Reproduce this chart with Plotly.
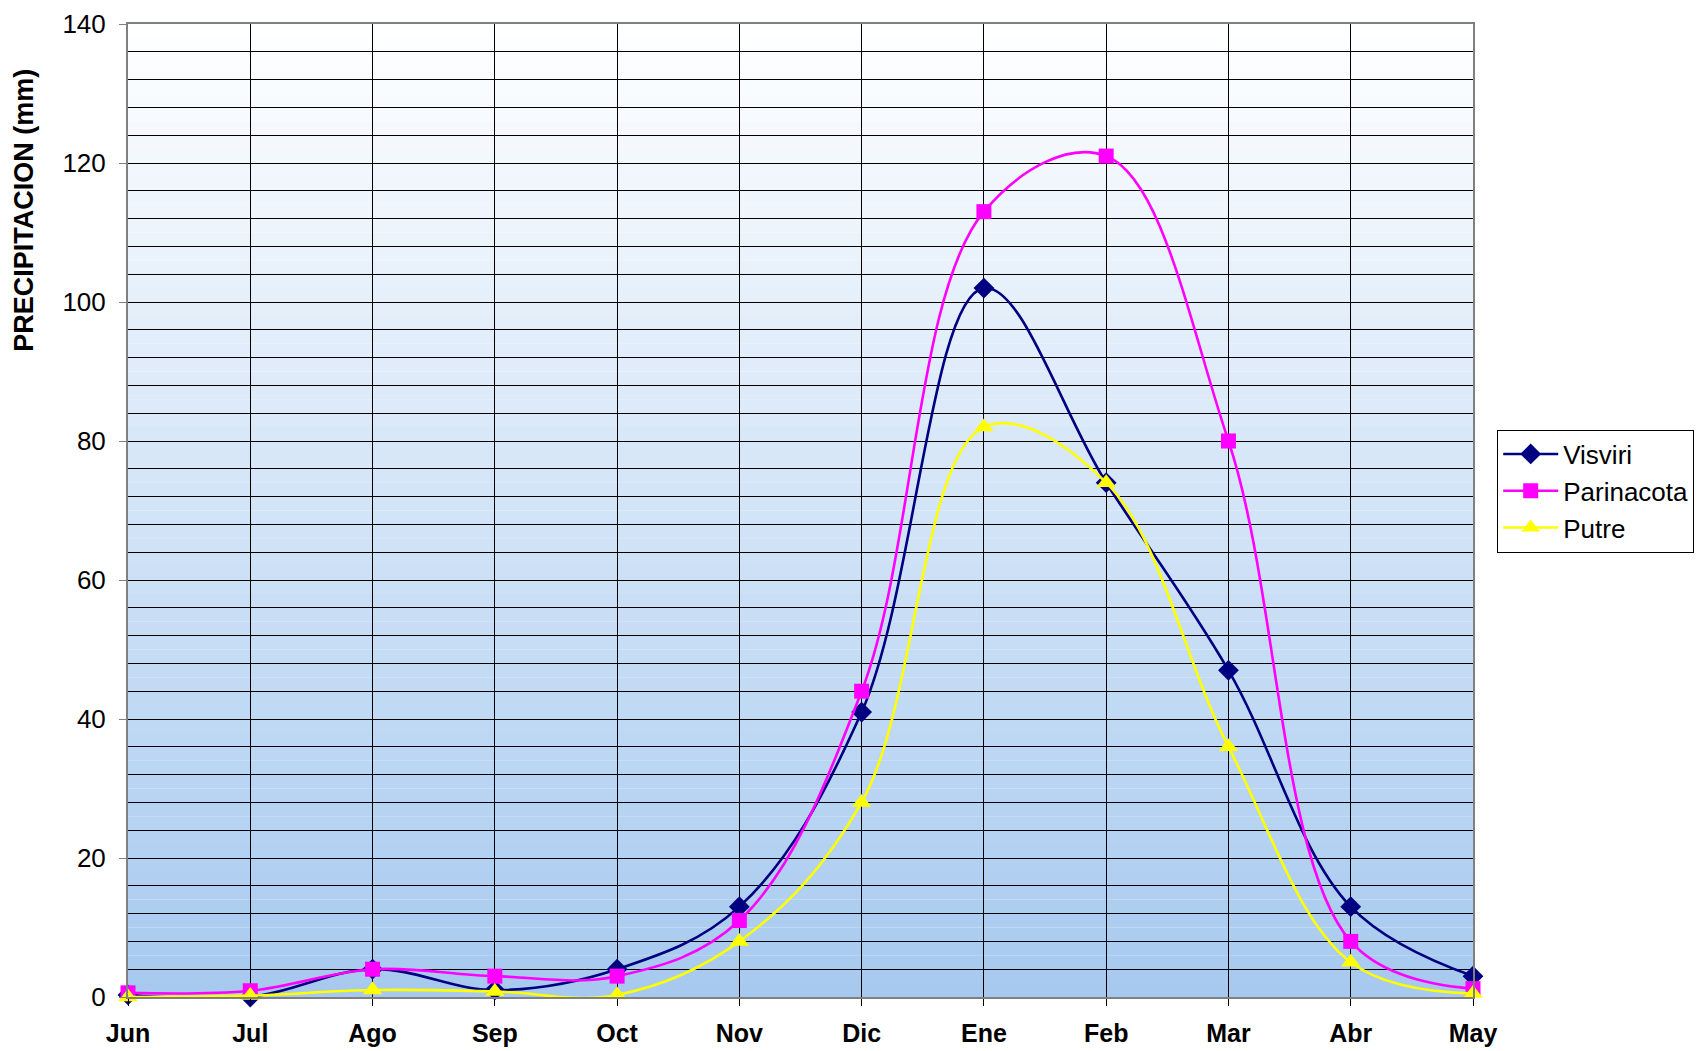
import plotly.graph_objects as go

months = ["Jun", "Jul", "Ago", "Sep", "Oct", "Nov", "Dic", "Ene", "Feb", "Mar", "Abr", "May"]
visviri = [0.3, 0, 4, 1, 4, 13, 41, 102, 74, 47, 13, 3]
parinacota = [0.6, 0.9, 4, 3, 3, 11, 44, 113, 121, 80, 8, 1.2]
putre = [0, 0.2, 1, 0.8, 0.3, 8, 28, 82, 74, 36, 5, 0.5]

y_ticks = [0, 20, 40, 60, 80, 100, 120, 140]

fig = go.Figure()

series = [
    ("Visviri", visviri, "#000080", "diamond", 16),
    ("Parinacota", parinacota, "#FF00FF", "square", 15),
    ("Putre", putre, "#FFFF00", "triangle-up", 17),
]
for name, vals, col, sym, sz in series:
    fig.add_trace(go.Scatter(
        x=list(range(len(months))), y=vals, name=name, mode="lines+markers",
        line=dict(color=col, width=2.6, shape="spline", smoothing=1.05),
        marker=dict(symbol=sym, size=sz, color=col, line=dict(width=0)),
        cliponaxis=False,
    ))

# vertical gradient background (white at top -> light blue at bottom)
n = 70
top = (255, 255, 255)
bot = (166, 201, 239)
shapes = []
for i in range(n):
    f = (i + 0.5) / n
    c = tuple(round(top[k] + (bot[k] - top[k]) * f) for k in range(3))
    shapes.append(dict(
        type="rect", xref="x domain", yref="y domain",
        x0=0, x1=1, y0=1 - (i + 1) / n, y1=1 - i / n,
        fillcolor="rgb(%d,%d,%d)" % c, line=dict(width=0), layer="below",
    ))

fig.update_layout(
    width=1698, height=1051,
    margin=dict(l=128, r=225, t=24, b=54, autoexpand=False),
    paper_bgcolor="white", plot_bgcolor="white",
    font=dict(family="Liberation Sans, Arial", color="black"),
    shapes=shapes,
    showlegend=True,
    legend=dict(
        x=1.018, xanchor="left", y=0.52, yanchor="middle",
        bordercolor="black", borderwidth=1, bgcolor="white",
        font=dict(size=26, family="Liberation Sans, Arial"),
        tracegroupgap=0, itemwidth=55,
    ),
    annotations=[dict(
        text="<b>PRECIPITACION (mm)</b>", xref="paper", yref="paper",
        x=-0.0773, y=0.808, xanchor="center", yanchor="middle",
        textangle=-90, showarrow=False, font=dict(size=27),
    )],
)

fig.update_xaxes(
    range=[0, 11], tickmode="array", tickvals=list(range(len(months))),
    ticktext=["<b>%s</b>" % m for m in months],
    showgrid=True, gridcolor="black", gridwidth=1,
    showline=True, linecolor="#808080", linewidth=2, mirror=True,
    ticks="outside", ticklen=7, tickcolor="black",
    tickfont=dict(size=25), ticklabelstandoff=6,
    zeroline=False, automargin=False,
)

fig.update_yaxes(
    range=[0, 140], tickmode="array", tickvals=y_ticks,
    showgrid=True, gridcolor="black", gridwidth=1,
    minor=dict(dtick=4, showgrid=True, gridcolor="black", gridwidth=1, ticks=""),
    showline=True, linecolor="#808080", linewidth=2, mirror=True,
    ticks="outside", ticklen=7, tickcolor="#808080",
    tickfont=dict(size=26), ticklabelstandoff=8,
    zeroline=False, automargin=False,
)

fig.write_html("out.html", config={"displayModeBar": False},
               post_script="document.body.style.margin='0';")
